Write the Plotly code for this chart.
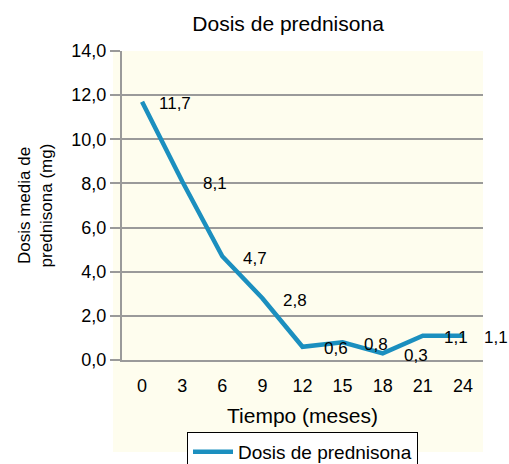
import plotly.graph_objects as go

meses = ['0', '3', '6', '9', '12', '15', '18', '21', '24']
dosis = [11.7, 8.1, 4.7, 2.8, 0.6, 0.8, 0.3, 1.1, 1.1]
etiquetas = ['11,7', '8,1', '4,7', '2,8', '0,6', '0,8', '0,3', '1,1', '1,1']
y_ticks = [0, 2, 4, 6, 8, 10, 12, 14]
y_ticktext = ['0,0', '2,0', '4,0', '6,0', '8,0', '10,0', '12,0', '14,0']

fondo = '#fefdee'
azul = '#1b8fbf'
gris = '#9a9a9a'
font = 'Liberation Sans, Arial, sans-serif'

fig = go.Figure()
fig.add_trace(go.Scatter(x=meses, y=dosis, mode='lines', name='Dosis de prednisona',
                         line=dict(color=azul, width=4.5)))

# etiquetas de datos desplazadas a la derecha, como en el original
for i, (v, t) in enumerate(zip(dosis, etiquetas)):
    fig.add_annotation(x=i, y=v, text=t, showarrow=False, xanchor='center',
                       xshift=33, yshift=-2, font=dict(size=17, color='black'))

# fondo amarillo que se extiende bajo las etiquetas del eje x
fig.add_shape(type='rect', xref='paper', yref='paper', x0=-0.025, x1=1, y0=-0.298, y1=1,
              fillcolor=fondo, line_width=0, layer='below')

fig.update_layout(
    width=509, height=464,
    margin=dict(l=122, r=26, t=51, b=104, autoexpand=False),
    paper_bgcolor='white', plot_bgcolor=fondo,
    font=dict(family=font, size=17, color='black'),
    title=dict(text='Dosis de prednisona', x=0.566, xanchor='center', y=0.948, yanchor='middle',
               font=dict(size=21)),
    showlegend=True,
    legend=dict(orientation='h', x=0.5, xanchor='center', y=-0.233, yanchor='top',
                bgcolor='white', bordercolor='black', borderwidth=1,
                font=dict(size=19), itemwidth=40),
)
fig.update_xaxes(type='category', range=[-0.5, 8.5], showgrid=False, showline=True,
                 linecolor=gris, linewidth=2, ticks='outside', ticklen=8,
                 tickcolor='rgba(0,0,0,0)', tickfont=dict(size=18),
                 title=dict(text='Tiempo (meses)', font=dict(size=21), standoff=14))
fig.update_yaxes(range=[0, 14], tickvals=y_ticks, ticktext=y_ticktext, showgrid=True,
                 gridcolor=gris, gridwidth=2, showline=True, linecolor=gris, linewidth=2,
                 ticks='outside', ticklen=10, tickcolor=gris, tickwidth=2,
                 tickfont=dict(size=18), zeroline=False,
                 title=dict(text='Dosis media de<br>prednisona (mg)', font=dict(size=17),
                            standoff=14))

fig.write_html('out.html', config={'displayModeBar': False},
               post_script="document.body.style.margin='0px';")
